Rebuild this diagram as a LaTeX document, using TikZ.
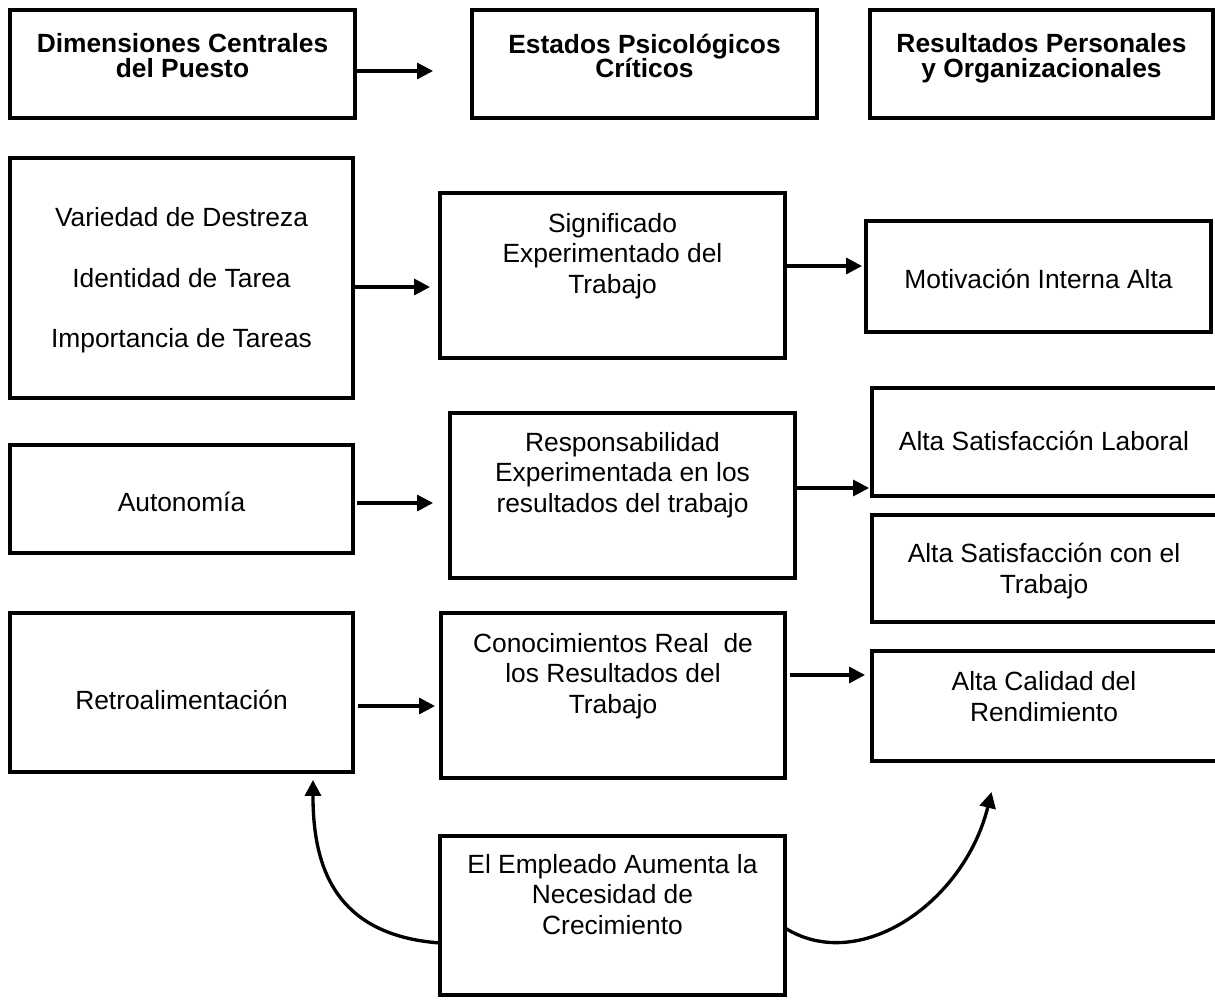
\documentclass[tikz,border=0pt]{standalone}
\usepackage{fontspec}
\setmainfont{Liberation Sans}
\usetikzlibrary{arrows.meta}
\newcommand\bodyfont{\fontsize{15pt}{17.3pt}\selectfont}
\newcommand\hdrfont{\fontsize{15pt}{14pt}\selectfont\bfseries}
\newcommand\listfont{\fontsize{15pt}{34.3pt}\selectfont}
\AtBeginDocument{\lineskiplimit=-20pt\relax}
\begin{document}
\begin{tikzpicture}[x=0.02cm,y=-0.02cm,
  box/.style={draw, line width=1.9pt, inner sep=0pt, outer sep=0pt, rectangle},
  txt/.style={anchor=north, inner sep=0pt, outer sep=0pt, align=center, font=\bodyfont},
  hdr/.style={txt, font=\hdrfont},
  arr/.style={line width=1.9pt, -{Triangle[length=0.32cm,width=0.32cm]}},
]
\fill[white] (0,0) rectangle (1215,1000);
\useasboundingbox (0,0) rectangle (1215,1000);

% header row
\node[box, minimum width=6.9cm, minimum height=2.16cm] (A) at (182.5,64) {};
\node[hdr] (At) at (182.5,31.8) {\rule{0pt}{12pt}Dimensiones Centrales\\del Puesto};
\node[box, minimum width=6.9cm, minimum height=2.16cm] (B) at (644.5,64) {};
\node[hdr] (Bt) at (644.5,32.3) {\rule{0pt}{12pt}Estados Psicológicos\\Críticos};
\node[box, minimum width=6.86cm, minimum height=2.16cm] (C) at (1041.5,64) {};
\node[hdr] (Ct) at (1041.5,31.8) {\rule{0pt}{12pt}Resultados Personales\\y Organizacionales};

% left column
\node[box, minimum width=6.86cm, minimum height=4.8cm] (L1) at (181.5,278) {};
\node[txt, font=\listfont] (L1t) at (181.5,205.8)
  {\rule{0pt}{12pt}Variedad de Destreza\\Identidad de Tarea\\Importancia de Tareas};
\node[box, minimum width=6.86cm, minimum height=2.16cm] (Aut) at (181.5,499) {};
\node[txt] (Autt) at (181.5,490.8) {\rule{0pt}{12pt}Autonomía};
\node[box, minimum width=6.86cm, minimum height=3.18cm] (Retro) at (181.5,692.5) {};
\node[txt] (Retrot) at (181.5,688.8) {\rule{0pt}{12pt}Retroalimentación};

% middle column
\node[box, minimum width=6.9cm, minimum height=3.3cm] (Sig) at (612.5,275.5) {};
\node[txt] (Sigt) at (612.5,211.3) {\rule{0pt}{12pt}Significado\\Experimentado del\\Trabajo};
\node[box, minimum width=6.9cm, minimum height=3.3cm] (Resp) at (622.5,495.5) {};
\node[txt] (Respt) at (622.5,430.3) {\rule{0pt}{12pt}Responsabilidad\\Experimentada en los\\resultados del trabajo};
\node[box, minimum width=6.88cm, minimum height=3.3cm] (Con) at (613,695.5) {};
\node[txt] (Cont) at (613,631.3) {\rule{0pt}{12pt}Conocimientos Real\ \ de\\los Resultados del\\Trabajo};
\node[box, minimum width=6.9cm, minimum height=3.18cm] (Emp) at (612.5,915.5) {};
\node[txt] (Empt) at (612.5,852.3) {\rule{0pt}{12pt}El Empleado Aumenta la\\Necesidad de\\Crecimiento};

% right column
\node[box, minimum width=6.9cm, minimum height=2.22cm] (Mot) at (1038.5,276.5) {};
\node[txt] (Mott) at (1038.5,267.8) {\rule{0pt}{12pt}Motivación Interna Alta};
\node[box, minimum width=7.06cm, minimum height=2.16cm] (SatL) at (1048.5,442) {};
\node[txt] (SatLt) at (1044,429.8) {\rule{0pt}{12pt}Alta Satisfacción Laboral};
\node[box, minimum width=7.06cm, minimum height=2.14cm] (SatT) at (1048.5,568.5) {};
\node[txt] (SatTt) at (1044,541.8) {\rule{0pt}{12pt}Alta Satisfacción con el\\Trabajo};
\node[box, minimum width=7.06cm, minimum height=2.2cm] (Cal) at (1048.5,706) {};
\node[txt] (Calt) at (1044,669.8) {\rule{0pt}{12pt}Alta Calidad del\\Rendimiento};

% straight connectors
\draw[arr, shorten >=0.78cm] (A.east |- 0,71) -- (B.west |- 0,71);
\draw[arr, shorten >=0.2cm] (L1.east |- 0,287) -- (Sig.west |- 0,287);
\draw[arr, shorten >=0.08cm] (Sig.east |- 0,266) -- (Mot.west |- 0,266);
\draw[arr, shorten <=0.08cm, shorten >=0.34cm] (Aut.east |- 0,503) -- (Resp.west |- 0,503);
\draw[arr, shorten >=0.06cm] (Resp.east |- 0,488) -- (SatL.west |- 0,488);
\draw[arr, shorten <=0.1cm, shorten >=0.12cm] (Retro.east |- 0,706) -- (Con.west |- 0,706);
\draw[arr, shorten <=0.1cm, shorten >=0.14cm] (Con.east |- 0,675) -- (Cal.west |- 0,675);

% curved connectors
\draw[arr] (Emp.west |- 0,943) .. controls +(-110,-8) and +(0,80) .. ([xshift=-0.8cm,yshift=-0.16cm]Retro.south east);
\draw[arr] (Emp.east |- 0,928) .. controls +(75,47) and +(-27,110) .. ([xshift=-1.14cm,yshift=-0.62cm]Cal.south);
\end{tikzpicture}
\end{document}
